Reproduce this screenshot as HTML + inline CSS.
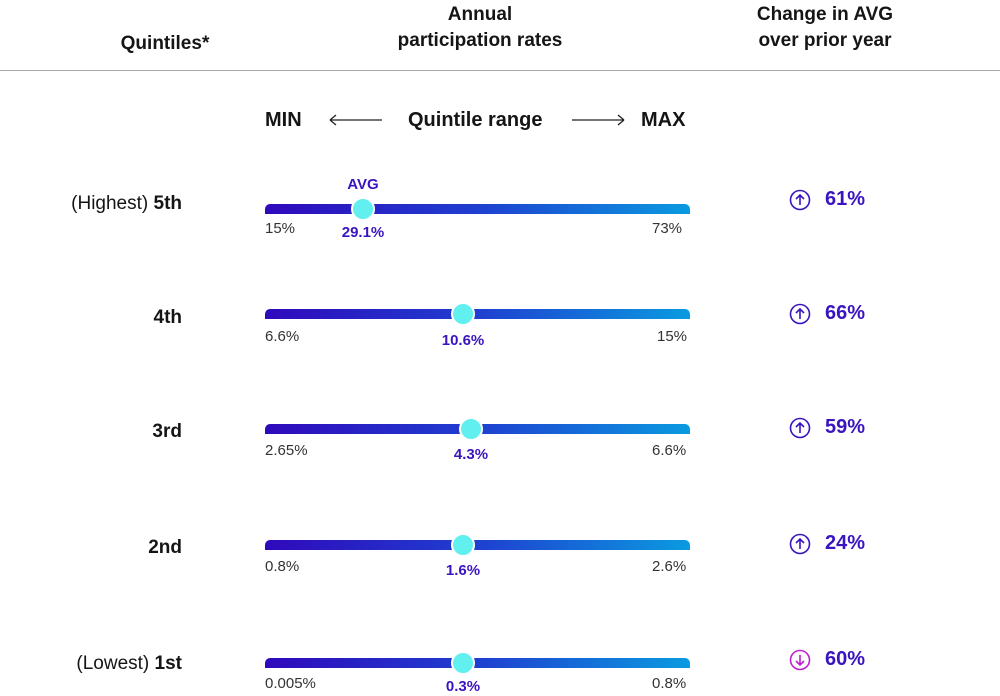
<!DOCTYPE html>
<html><head><meta charset="utf-8"><style>
body{margin:0;width:1000px;height:696px;background:#fff;font-family:"Liberation Sans",sans-serif;position:relative;overflow:hidden;color:#151515}
.a{position:absolute;white-space:nowrap}
.h{font-weight:bold;font-size:19px;text-align:center;line-height:26px}
.bar{position:absolute;left:265px;width:425px;height:10px;border-radius:5px 5px 0 0;background:linear-gradient(90deg,#2f0abb,#1f3fd0 50%,#0a9be0)}
.dot{position:absolute;width:20px;height:20px;border-radius:50%;background:#62eff0;border:2px solid #fff;margin-left:-12px;margin-top:-12px}
.v{font-size:15px;color:#333}
.avg{font-size:15px;font-weight:bold;color:#3a14c0;transform:translateX(-50%)}
.lab{font-size:19px;right:818px;text-align:right}
.pct{font-size:20px;font-weight:bold;color:#3a14c0;left:825px}
.ic{position:absolute;left:789px}
</style></head><body>
<div class="a h" style="left:100px;top:31px;width:130px">Quintiles*</div>
<div class="a h" style="left:360px;top:2px;width:240px">Annual<br>participation rates</div>
<div class="a h" style="left:740px;top:2px;width:170px">Change in AVG<br>over prior year</div>
<div class="a" style="left:0;top:70px;width:1000px;height:1px;background:#aaa"></div>
<div class="a" style="left:265px;top:109px;font-size:20px;font-weight:bold">MIN</div>
<svg class="a" style="left:328px;top:112px" width="56" height="16"><path d="M2 8H54M2 8L8 3M2 8L8 13" stroke="#222" stroke-width="1.3" fill="none"/></svg>
<div class="a" style="left:408px;top:109px;font-size:20px;font-weight:bold">Quintile range</div>
<svg class="a" style="left:570px;top:112px" width="56" height="16"><path d="M2 8H54M54 8L48 3M54 8L48 13" stroke="#222" stroke-width="1.3" fill="none"/></svg>
<div class="a" style="left:641px;top:109px;font-size:20px;font-weight:bold">MAX</div>
<div class="a avg" style="left:363px;top:176px">AVG</div>

<div class="a lab" style="top:193px">(Highest) <b>5th</b></div>
<div class="bar" style="top:204px"></div><div class="dot" style="left:363px;top:209px"></div>
<div class="a v" style="left:265px;top:220px">15%</div><div class="a avg" style="left:363px;top:224px">29.1%</div><div class="a v" style="left:652px;top:220px">73%</div>
<svg class="ic" style="top:189px" width="22" height="22"><circle cx="11" cy="11" r="9.5" stroke="#3a14c0" stroke-width="1.6" fill="none"/><path d="M11 16V6M7 10L11 6L15 10" stroke="#3a14c0" stroke-width="1.6" fill="none"/></svg><div class="a pct" style="top:188px">61%</div>

<div class="a lab" style="top:307px"><b>4th</b></div>
<div class="bar" style="top:309px"></div><div class="dot" style="left:463px;top:314px"></div>
<div class="a v" style="left:265px;top:328px">6.6%</div><div class="a avg" style="left:463px;top:332px">10.6%</div><div class="a v" style="left:657px;top:328px">15%</div>
<svg class="ic" style="top:303px" width="22" height="22"><circle cx="11" cy="11" r="9.5" stroke="#3a14c0" stroke-width="1.6" fill="none"/><path d="M11 16V6M7 10L11 6L15 10" stroke="#3a14c0" stroke-width="1.6" fill="none"/></svg><div class="a pct" style="top:302px">66%</div>

<div class="a lab" style="top:421px"><b>3rd</b></div>
<div class="bar" style="top:424px"></div><div class="dot" style="left:471px;top:429px"></div>
<div class="a v" style="left:265px;top:442px">2.65%</div><div class="a avg" style="left:471px;top:446px">4.3%</div><div class="a v" style="left:652px;top:442px">6.6%</div>
<svg class="ic" style="top:417px" width="22" height="22"><circle cx="11" cy="11" r="9.5" stroke="#3a14c0" stroke-width="1.6" fill="none"/><path d="M11 16V6M7 10L11 6L15 10" stroke="#3a14c0" stroke-width="1.6" fill="none"/></svg><div class="a pct" style="top:416px">59%</div>

<div class="a lab" style="top:537px"><b>2nd</b></div>
<div class="bar" style="top:540px"></div><div class="dot" style="left:463px;top:545px"></div>
<div class="a v" style="left:265px;top:558px">0.8%</div><div class="a avg" style="left:463px;top:562px">1.6%</div><div class="a v" style="left:652px;top:558px">2.6%</div>
<svg class="ic" style="top:533px" width="22" height="22"><circle cx="11" cy="11" r="9.5" stroke="#3a14c0" stroke-width="1.6" fill="none"/><path d="M11 16V6M7 10L11 6L15 10" stroke="#3a14c0" stroke-width="1.6" fill="none"/></svg><div class="a pct" style="top:532px">24%</div>

<div class="a lab" style="top:653px">(Lowest) <b>1st</b></div>
<div class="bar" style="top:658px"></div><div class="dot" style="left:463px;top:663px"></div>
<div class="a v" style="left:265px;top:675px">0.005%</div><div class="a avg" style="left:463px;top:678px">0.3%</div><div class="a v" style="left:652px;top:675px">0.8%</div>
<svg class="ic" style="top:649px" width="22" height="22"><circle cx="11" cy="11" r="9.5" stroke="#c020d0" stroke-width="1.6" fill="none"/><path d="M11 6V16M7 12L11 16L15 12" stroke="#c020d0" stroke-width="1.6" fill="none"/></svg><div class="a pct" style="top:648px">60%</div>
</body></html>
